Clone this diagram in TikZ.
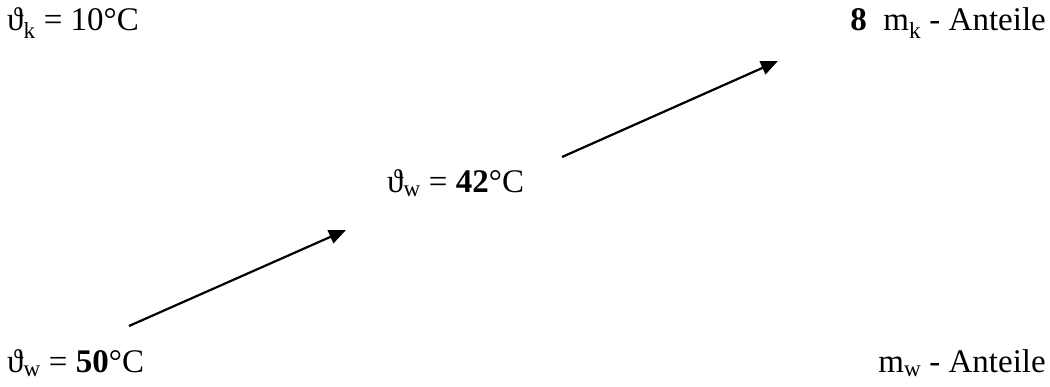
\documentclass[tikz,border=0pt]{standalone}
\usepackage{fontspec}
\setmainfont{Liberation Serif}
\usetikzlibrary{arrows.meta}
\begin{document}
\begin{tikzpicture}[x=1pt,y=-1pt,
  lbl/.style={anchor=base west, inner sep=0pt, font=\fontsize{33}{38}\selectfont},
  lblr/.style={lbl, anchor=base east},
  arr/.style={line width=2.2pt, -{Triangle[length=17pt,width=14pt]}}]
\useasboundingbox (0,0) rectangle (1050,387);
\node[lbl]  (tk)  at (7,31)    {ϑ\textsubscript{k} = 10°C};
\node[lblr] (mk)  at (1046,31) {\textbf{8}\ \ m\textsubscript{k} - Anteile};
\node[lbl]  (tm)  at (387,193) {ϑ\textsubscript{w} = \textbf{42}°C};
\node[lbl]  (tw)  at (7,373)   {ϑ\textsubscript{w} = \textbf{50}°C};
\node[lblr] (mw)  at (1046,373) {m\textsubscript{w} - Anteile};
\coordinate (a1s) at (129,326);
\coordinate (a1e) at (346,230);
\coordinate (a2s) at (562,157);
\coordinate (a2e) at (778,61);
\draw[arr] (a1s) -- (a1e);
\draw[arr] (a2s) -- (a2e);
\end{tikzpicture}
\end{document}
